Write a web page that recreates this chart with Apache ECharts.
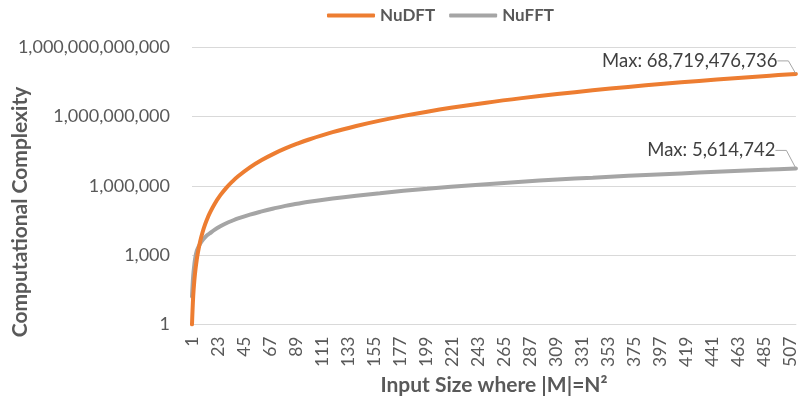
<!DOCTYPE html>
<html>
<head>
<meta charset="utf-8">
<script src="https://cdn.jsdelivr.net/npm/echarts@6/dist/echarts.min.js"></script>
<style>
html,body{margin:0;padding:0;background:#fff;}
#chart{width:799px;height:404px;}
</style>
</head>
<body>
<div id="chart"></div>
<script>
// Input size N (sample points)
const inputSizes = [1,2,3,4,5,6,8,10,12,14,16,20,25,30,35,40,50,60,70,80,90,100,120,140,160,180,200,220,250,280,310,340,370,400,430,460,490,512];
// NuDFT complexity
const nudftValues = [1,16,81,256,625,1296,4096,10000,20736,38416,65536,160000,390625,810000,1500625,2560000,6250000,12960000,24010000,40960000,65610000,100000000,207360000,384160000,655360000,1049760000,1600000000,2342560000,3906250000,6146560000,9235210000,13363360000,18741610000,25600000000,34188010000,44774560000,57648010000,68719476736];
// NuFFT complexity
const nufftValues = [16,125,400,900,1480,2000,3160,4470,5900,7400,8700,12400,17800,24000,30700,38500,56500,77600,103500,135000,166000,204000,282000,372000,473000,603000,741000,902000,1175000,1496000,1862000,2240000,2690000,3160000,3715000,4365000,5010000,5614742];
// X tick labels
const xTickLabels = [1,23,45,67,89,111,133,155,177,199,221,243,265,287,309,331,353,375,397,419,441,463,485,507];
const seriesNames = ['NuDFT','NuFFT'];
const yAxisTitle = 'Computational Complexity';
const xAxisTitle = 'Input Size where |M|=N²';

function fmt(v){
  const s = String(Math.round(v));
  return s.replace(/\B(?=(\d{3})+(?!\d))/g, ',');
}
function buildData(values){
  return inputSizes.map((n,i)=>{
    if(i === inputSizes.length-1){
      return {
        value:[n, values[i]],
        symbol:'circle', symbolSize:1,
        label:{show:true, position:'left', formatter: 'Max: ' + fmt(values[i]),
               fontFamily:'Lato', fontSize:18.5, color:'#404040', padding:[0,8,0,0]}
      };
    }
    return [n, values[i]];
  });
}
const FONT = 'Lato';
const chart = echarts.init(document.getElementById('chart'), null, {renderer:'canvas'});
chart.setOption({
  animation:false,
  backgroundColor:'#ffffff',
  legend:{
    left:322, top:2,
    itemWidth:48, itemHeight:4, itemGap:14,
    icon:'roundRect',
    textStyle:{fontFamily:FONT, fontWeight:'bold', fontSize:17, color:'#595959'},
    data:seriesNames
  },
  grid:{left:192, right:0, top:47, bottom:79.5, containLabel:false},
  xAxis:{
    type:'value', min:1, max:512,
    name:xAxisTitle, nameLocation:'middle', nameGap:49,
    nameTextStyle:{fontFamily:FONT, fontWeight:'bold', fontSize:21, color:'#595959'},
    axisLine:{show:true, lineStyle:{color:'#d9d9d9', width:1}},
    axisTick:{show:false},
    splitLine:{show:false},
    axisLabel:{customValues:xTickLabels, rotate:90, margin:12,
      fontFamily:FONT, fontSize:17.5, color:'#595959'}
  },
  yAxis:{
    type:'log', logBase:1000, min:1, max:1e12,
    axisLine:{show:false}, axisTick:{show:false},
    splitLine:{show:true, lineStyle:{color:'#d9d9d9', width:1}},
    axisLabel:{formatter:(v)=>fmt(v), margin:22, fontFamily:FONT, fontSize:18, color:'#595959'}
  },
  graphic:[{
    type:'text',
    rotation:Math.PI/2,
    x:20, y:212,
    style:{text:yAxisTitle, fontFamily:FONT, fontWeight:'bold', fontSize:21, fill:'#595959',
      textAlign:'center', textVerticalAlign:'middle'}
  }],
  series:[
    {
      name:seriesNames[0], type:'line', data:buildData(nudftValues),
      symbol:'none', showSymbol:true, smooth:0.4,
      lineStyle:{color:'#ED7D31', width:4, cap:'round'},
      itemStyle:{color:'#ED7D31'},
      labelLayout:{dx:-5, dy:-13},
      labelLine:{show:true, length2:11, lineStyle:{color:'#a6a6a6', width:1}},
      z:3
    },
    {
      name:seriesNames[1], type:'line', data:buildData(nufftValues),
      symbol:'none', showSymbol:true, smooth:0.4,
      lineStyle:{color:'#A5A5A5', width:4, cap:'round'},
      itemStyle:{color:'#A5A5A5'},
      labelLayout:{dx:-7, dy:-18},
      labelLine:{show:true, length2:11, lineStyle:{color:'#a6a6a6', width:1}},
      z:2
    }
  ]
});
</script>
</body>
</html>
